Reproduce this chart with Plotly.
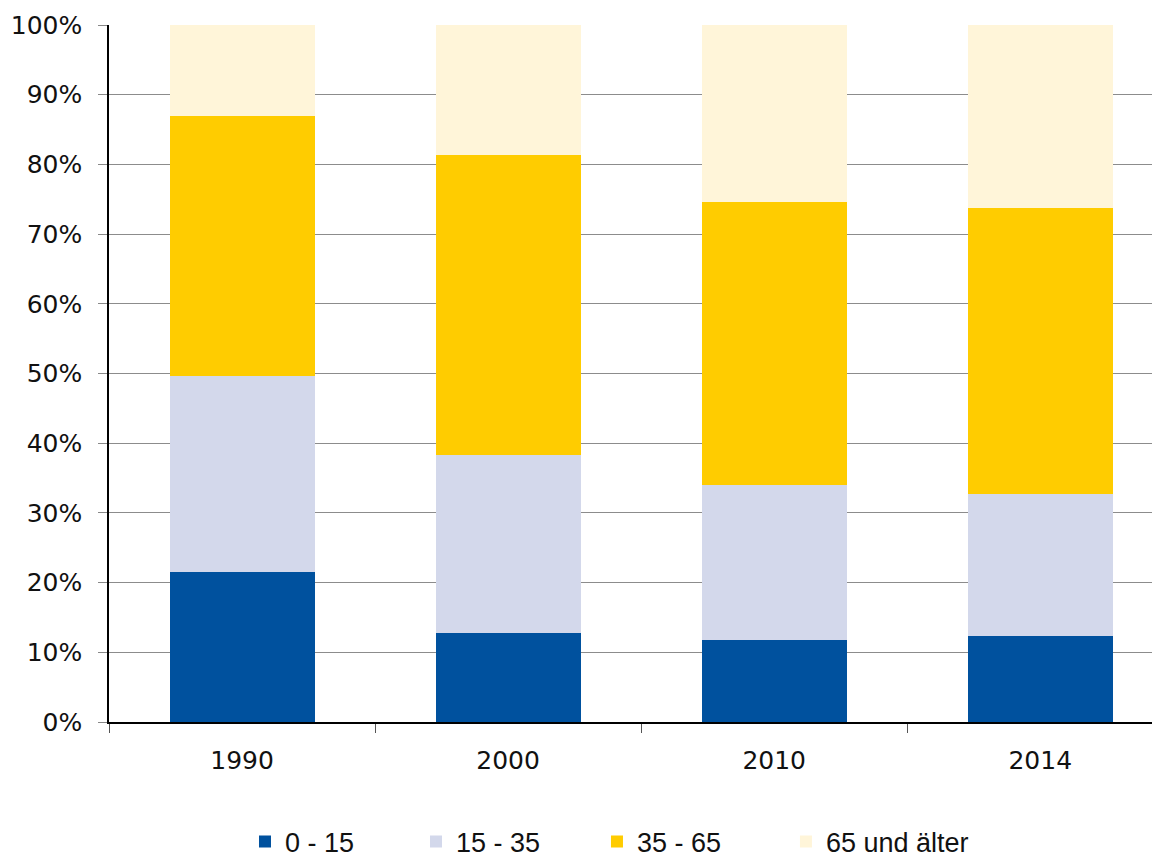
import plotly.graph_objects as go

years = ['1990', '2000', '2010', '2014']
age_groups = ['0 - 15', '15 - 35', '35 - 65', '65 und älter']
share_0_15 = [21.5, 12.8, 11.8, 12.3]
share_15_35 = [28.1, 25.5, 22.2, 20.4]
share_35_65 = [37.3, 43.0, 40.6, 41.0]
share_65_plus = [13.1, 18.7, 25.4, 26.3]
colors = ['#00519E', '#D3D8EB', '#FFCC00', '#FFF5D9']

series = [share_0_15, share_15_35, share_35_65, share_65_plus]

# one legend per entry so the spacing can follow the original
legend_ids = ['legend', 'legend2', 'legend3', 'legend4']
legend_x = [0.1294, 0.2921, 0.4643, 0.6441]

fig = go.Figure()
for name, values, color, lg in zip(age_groups, series, colors, legend_ids):
    fig.add_trace(go.Bar(
        x=years,
        y=values,
        name=name,
        legend=lg,
        marker=dict(color=color, line=dict(width=0)),
    ))

legend_font = dict(family='Liberation Sans', size=27, color='#111111')
legends = {}
for lg, lx in zip(legend_ids, legend_x):
    legends[lg] = dict(
        orientation='h',
        x=lx,
        xanchor='left',
        yref='container',
        y=0.02,
        yanchor='middle',
        font=legend_font,
        bgcolor='rgba(0,0,0,0)',
        itemclick=False,
    )

fig.update_layout(
    barmode='stack',
    bargap=0.455,
    width=1152,
    height=851,
    margin=dict(l=101, r=0, t=17, b=137),
    paper_bgcolor='white',
    plot_bgcolor='white',
    font=dict(family='DejaVu Sans', size=25, color='#111111'),
    showlegend=True,
    **legends,
)

fig.update_xaxes(
    type='category',
    range=[-0.5, 3.45],
    automargin=False,
    showline=True,
    linecolor='black',
    linewidth=1.5,
    ticks='outside',
    tickson='boundaries',
    ticklen=9,
    tickcolor='#555555',
    ticklabelstandoff=15,
    showgrid=False,
    tickfont=dict(size=25),
)

fig.update_yaxes(
    range=[0, 100],
    dtick=10,
    ticksuffix='%',
    automargin=False,
    showline=True,
    linecolor='black',
    linewidth=1.5,
    ticks='outside',
    ticklen=9,
    tickcolor='#888888',
    ticklabelstandoff=11,
    showgrid=True,
    gridcolor='#8c8c8c',
    gridwidth=1,
    zeroline=False,
    tickfont=dict(size=25),
)

fig.write_html('out.html')
